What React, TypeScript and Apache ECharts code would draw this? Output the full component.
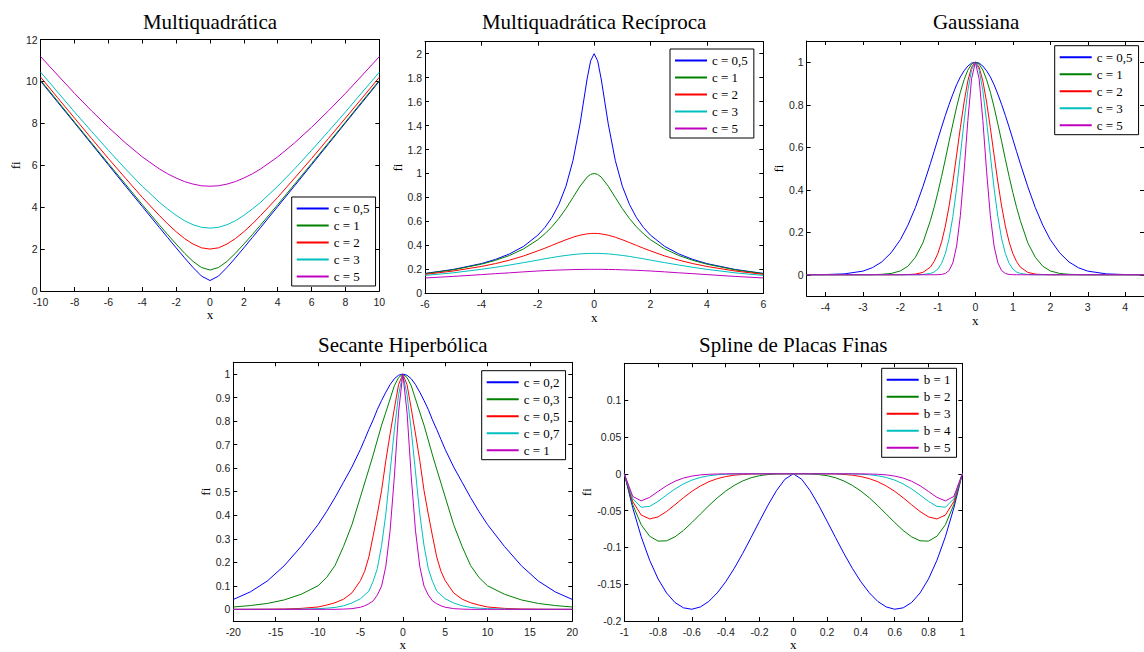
import { useEffect, useRef } from 'react';
import * as echarts from 'echarts';

// ---------------- DATA ----------------
const COLORS = ['#0000ff', '#008000', '#ff0000', '#00bfbf', '#bf00bf'];

const C_NAMES = ['c = 0,5', 'c = 1', 'c = 2', 'c = 3', 'c = 5'];
const SE_NAMES = ['c = 0,2', 'c = 0,3', 'c = 0,5', 'c = 0,7', 'c = 1'];
const TPS_NAMES = ['b = 1', 'b = 2', 'b = 3', 'b = 4', 'b = 5'];

// Multiquadrática
const MQ_X = [-10, -9, -8, -7, -6, -5, -4, -3, -2.5, -2, -1.5, -1, -0.5, 0, 0.5, 1, 1.5, 2, 2.5, 3, 4, 5, 6, 7, 8, 9, 10];
const MQ_C05 = [10.01, 9.01, 8.02, 7.02, 6.02, 5.02, 4.03, 3.04, 2.55, 2.06, 1.58, 1.12, 0.71, 0.5, 0.71, 1.12, 1.58, 2.06, 2.55, 3.04, 4.03, 5.02, 6.02, 7.02, 8.02, 9.01, 10.01];
const MQ_C1 = [10.05, 9.06, 8.06, 7.07, 6.08, 5.1, 4.12, 3.16, 2.69, 2.24, 1.8, 1.41, 1.12, 1, 1.12, 1.41, 1.8, 2.24, 2.69, 3.16, 4.12, 5.1, 6.08, 7.07, 8.06, 9.06, 10.05];
const MQ_C2 = [10.2, 9.22, 8.25, 7.28, 6.32, 5.39, 4.47, 3.61, 3.2, 2.83, 2.5, 2.24, 2.06, 2, 2.06, 2.24, 2.5, 2.83, 3.2, 3.61, 4.47, 5.39, 6.32, 7.28, 8.25, 9.22, 10.2];
const MQ_C3 = [10.44, 9.49, 8.54, 7.62, 6.71, 5.83, 5, 4.24, 3.91, 3.61, 3.35, 3.16, 3.04, 3, 3.04, 3.16, 3.35, 3.61, 3.91, 4.24, 5, 5.83, 6.71, 7.62, 8.54, 9.49, 10.44];
const MQ_C5 = [11.18, 10.3, 9.43, 8.6, 7.81, 7.07, 6.4, 5.83, 5.59, 5.39, 5.22, 5.1, 5.02, 5, 5.02, 5.1, 5.22, 5.39, 5.59, 5.83, 6.4, 7.07, 7.81, 8.6, 9.43, 10.3, 11.18];
const MQ_XTICKS = [-10, -8, -6, -4, -2, 0, 2, 4, 6, 8, 10];
const MQ_YTICKS = [0, 2, 4, 6, 8, 10, 12];

// Multiquadrática Recíproca
const IMQ_X = [-6, -5, -4, -3.5, -3, -2.5, -2, -1.75, -1.5, -1.25, -1, -0.75, -0.5, -0.25, -0.125, 0, 0.125, 0.25, 0.5, 0.75, 1, 1.25, 1.5, 1.75, 2, 2.5, 3, 3.5, 4, 5, 6];
const IMQ_C05 = [0.166, 0.199, 0.248, 0.283, 0.329, 0.392, 0.485, 0.549, 0.632, 0.743, 0.894, 1.109, 1.414, 1.789, 1.94, 2, 1.94, 1.789, 1.414, 1.109, 0.894, 0.743, 0.632, 0.549, 0.485, 0.392, 0.329, 0.283, 0.248, 0.199, 0.166];
const IMQ_C1 = [0.164, 0.196, 0.243, 0.275, 0.316, 0.371, 0.447, 0.496, 0.555, 0.625, 0.707, 0.8, 0.894, 0.97, 0.992, 1, 0.992, 0.97, 0.894, 0.8, 0.707, 0.625, 0.555, 0.496, 0.447, 0.371, 0.316, 0.275, 0.243, 0.196, 0.164];
const IMQ_C2 = [0.158, 0.186, 0.224, 0.248, 0.277, 0.312, 0.354, 0.376, 0.4, 0.424, 0.447, 0.468, 0.485, 0.496, 0.499, 0.5, 0.499, 0.496, 0.485, 0.468, 0.447, 0.424, 0.4, 0.376, 0.354, 0.312, 0.277, 0.248, 0.224, 0.186, 0.158];
const IMQ_C3 = [0.149, 0.171, 0.2, 0.217, 0.236, 0.256, 0.277, 0.288, 0.298, 0.308, 0.316, 0.323, 0.329, 0.332, 0.333, 0.333, 0.333, 0.332, 0.329, 0.323, 0.316, 0.308, 0.298, 0.288, 0.277, 0.256, 0.236, 0.217, 0.2, 0.171, 0.149];
const IMQ_C5 = [0.128, 0.141, 0.156, 0.164, 0.171, 0.179, 0.186, 0.189, 0.192, 0.194, 0.196, 0.198, 0.199, 0.2, 0.2, 0.2, 0.2, 0.2, 0.199, 0.198, 0.196, 0.194, 0.192, 0.189, 0.186, 0.179, 0.171, 0.164, 0.156, 0.141, 0.128];
const IMQ_XTICKS = [-6, -4, -2, 0, 2, 4, 6];
const IMQ_YTICKS = [0, 0.2, 0.4, 0.6, 0.8, 1, 1.2, 1.4, 1.6, 1.8, 2];

// Gaussiana
const GA_X = [-4.5, -4, -3.5, -3, -2.75, -2.5, -2.25, -2, -1.8, -1.6, -1.4, -1.2, -1.1, -1, -0.9, -0.8, -0.7, -0.6, -0.5, -0.4, -0.3, -0.2, -0.1, 0, 0.1, 0.2, 0.3, 0.4, 0.5, 0.6, 0.7, 0.8, 0.9, 1, 1.1, 1.2, 1.4, 1.6, 1.8, 2, 2.25, 2.5, 2.75, 3, 3.5, 4, 4.5];
const GA_C05 = [0, 0.001, 0.004, 0.017, 0.033, 0.06, 0.103, 0.165, 0.233, 0.316, 0.414, 0.523, 0.58, 0.638, 0.695, 0.75, 0.802, 0.85, 0.894, 0.931, 0.96, 0.982, 0.996, 1, 0.996, 0.982, 0.96, 0.931, 0.894, 0.85, 0.802, 0.75, 0.695, 0.638, 0.58, 0.523, 0.414, 0.316, 0.233, 0.165, 0.103, 0.06, 0.033, 0.017, 0.004, 0.001, 0];
const GA_C1 = [0, 0, 0, 0, 0.0005, 0.002, 0.006, 0.018, 0.04, 0.082, 0.15, 0.255, 0.317, 0.387, 0.463, 0.544, 0.628, 0.71, 0.789, 0.859, 0.918, 0.963, 0.991, 1, 0.991, 0.963, 0.918, 0.859, 0.789, 0.71, 0.628, 0.544, 0.463, 0.387, 0.317, 0.255, 0.15, 0.082, 0.04, 0.018, 0.006, 0.002, 0.0005, 0, 0, 0, 0];
const GA_C2 = [0, 0, 0, 0, 0, 0, 0, 0, 0.001, 0.003, 0.011, 0.036, 0.062, 0.1, 0.155, 0.229, 0.324, 0.437, 0.563, 0.692, 0.813, 0.912, 0.977, 1, 0.977, 0.912, 0.813, 0.692, 0.563, 0.437, 0.324, 0.229, 0.155, 0.1, 0.062, 0.036, 0.011, 0.003, 0.001, 0, 0, 0, 0, 0, 0, 0, 0];
const GA_C3 = [0, 0, 0, 0, 0, 0, 0, 0, 0, 0, 0.001, 0.006, 0.013, 0.027, 0.054, 0.1, 0.171, 0.274, 0.407, 0.562, 0.723, 0.866, 0.965, 1, 0.965, 0.866, 0.723, 0.562, 0.407, 0.274, 0.171, 0.1, 0.054, 0.027, 0.013, 0.006, 0.001, 0, 0, 0, 0, 0, 0, 0, 0, 0, 0];
const GA_C5 = [0, 0, 0, 0, 0, 0, 0, 0, 0, 0, 0, 0, 0, 0.0003, 0.0015, 0.006, 0.02, 0.056, 0.135, 0.278, 0.487, 0.726, 0.923, 1, 0.923, 0.726, 0.487, 0.278, 0.135, 0.056, 0.02, 0.006, 0.0015, 0.0003, 0, 0, 0, 0, 0, 0, 0, 0, 0, 0, 0, 0, 0];
const GA_XTICKS = [-4, -3, -2, -1, 0, 1, 2, 3, 4];
const GA_YTICKS = [0, 0.2, 0.4, 0.6, 0.8, 1];

// Secante Hiperbólica
const SE_X = [-20, -18, -16, -14, -12, -10, -9, -8, -7, -6, -5, -4.5, -4, -3.5, -3, -2.5, -2, -1.5, -1, -0.5, 0, 0.5, 1, 1.5, 2, 2.5, 3, 3.5, 4, 4.5, 5, 6, 7, 8, 9, 10, 12, 14, 16, 18, 20];
const SE_C02 = [0.042, 0.074, 0.12, 0.185, 0.267, 0.36, 0.415, 0.475, 0.54, 0.605, 0.68, 0.722, 0.765, 0.805, 0.85, 0.888, 0.923, 0.955, 0.98, 0.995, 1, 0.995, 0.98, 0.955, 0.923, 0.888, 0.85, 0.805, 0.765, 0.722, 0.68, 0.605, 0.54, 0.475, 0.415, 0.36, 0.267, 0.185, 0.12, 0.074, 0.042];
const SE_C03 = [0.01, 0.016, 0.025, 0.04, 0.064, 0.1, 0.135, 0.186, 0.267, 0.36, 0.478, 0.537, 0.596, 0.656, 0.72, 0.783, 0.838, 0.894, 0.95, 0.985, 1, 0.985, 0.95, 0.894, 0.838, 0.783, 0.72, 0.656, 0.596, 0.537, 0.478, 0.36, 0.267, 0.186, 0.135, 0.1, 0.064, 0.04, 0.025, 0.016, 0.01];
const SE_C05 = [0.0001, 0.0003, 0.0007, 0.0015, 0.004, 0.01, 0.018, 0.028, 0.043, 0.07, 0.122, 0.162, 0.223, 0.312, 0.406, 0.506, 0.633, 0.745, 0.852, 0.955, 1, 0.955, 0.852, 0.745, 0.633, 0.506, 0.406, 0.312, 0.223, 0.162, 0.122, 0.07, 0.043, 0.028, 0.018, 0.01, 0.004, 0.0015, 0.0007, 0.0003, 0.0001];
const SE_C07 = [0, 0, 0, 0, 0.001, 0.003, 0.005, 0.008, 0.015, 0.027, 0.045, 0.061, 0.078, 0.119, 0.174, 0.272, 0.406, 0.584, 0.76, 0.912, 1, 0.912, 0.76, 0.584, 0.406, 0.272, 0.174, 0.119, 0.078, 0.061, 0.045, 0.027, 0.015, 0.008, 0.005, 0.003, 0.001, 0, 0, 0, 0];
const SE_C1 = [0, 0, 0, 0, 0, 0, 0, 0, 0.001, 0.003, 0.009, 0.015, 0.024, 0.036, 0.061, 0.099, 0.183, 0.334, 0.562, 0.838, 1, 0.838, 0.562, 0.334, 0.183, 0.099, 0.061, 0.036, 0.024, 0.015, 0.009, 0.003, 0.001, 0, 0, 0, 0, 0, 0, 0, 0];
const SE_XTICKS = [-20, -15, -10, -5, 0, 5, 10, 15, 20];
const SE_YTICKS = [0, 0.1, 0.2, 0.3, 0.4, 0.5, 0.6, 0.7, 0.8, 0.9, 1];

// Spline de Placas Finas
const TPS_X = [-1, -0.95, -0.9, -0.85, -0.8, -0.75, -0.7, -0.65, -0.6, -0.55, -0.5, -0.45, -0.4, -0.35, -0.3, -0.25, -0.2, -0.15, -0.1, -0.05, 0, 0.05, 0.1, 0.15, 0.2, 0.25, 0.3, 0.35, 0.4, 0.45, 0.5, 0.55, 0.6, 0.65, 0.7, 0.75, 0.8, 0.85, 0.9, 0.95, 1];
const TPS_B1 = [0, -0.0463, -0.0854, -0.1174, -0.1428, -0.1618, -0.1748, -0.182, -0.1839, -0.1808, -0.1733, -0.1617, -0.1466, -0.1286, -0.1084, -0.0866, -0.0644, -0.0427, -0.023, -0.0075, 0, -0.0075, -0.023, -0.0427, -0.0644, -0.0866, -0.1084, -0.1286, -0.1466, -0.1617, -0.1733, -0.1808, -0.1839, -0.182, -0.1748, -0.1618, -0.1428, -0.1174, -0.0854, -0.0463, 0];
const TPS_B2 = [0, -0.0418, -0.0692, -0.0848, -0.0914, -0.091, -0.0856, -0.0769, -0.0662, -0.0547, -0.0433, -0.0327, -0.0235, -0.0158, -0.0098, -0.0054, -0.0026, -0.001, -0.0002, 0, 0, 0, -0.0002, -0.001, -0.0026, -0.0054, -0.0098, -0.0158, -0.0235, -0.0327, -0.0433, -0.0547, -0.0662, -0.0769, -0.0856, -0.091, -0.0914, -0.0848, -0.0692, -0.0418, 0];
const TPS_B3 = [0, -0.0377, -0.056, -0.0613, -0.0585, -0.0512, -0.042, -0.0325, -0.0238, -0.0166, -0.0108, -0.0066, -0.0038, -0.0019, -0.0009, -0.0003, -0.0001, 0, 0, 0, 0, 0, 0, 0, -0.0001, -0.0003, -0.0009, -0.0019, -0.0038, -0.0066, -0.0108, -0.0166, -0.0238, -0.0325, -0.042, -0.0512, -0.0585, -0.0613, -0.056, -0.0377, 0];
const TPS_B4 = [0, -0.034, -0.0454, -0.0443, -0.0374, -0.0288, -0.0206, -0.0137, -0.0086, -0.005, -0.0027, -0.0013, -0.0006, -0.0002, -0.0001, 0, 0, 0, 0, 0, 0, 0, 0, 0, 0, 0, -0.0001, -0.0002, -0.0006, -0.0013, -0.0027, -0.005, -0.0086, -0.0137, -0.0206, -0.0288, -0.0374, -0.0443, -0.0454, -0.034, 0];
const TPS_B5 = [0, -0.0307, -0.0368, -0.032, -0.024, -0.0162, -0.0101, -0.0058, -0.0031, -0.0015, -0.0007, -0.0003, -0.0001, 0, 0, 0, 0, 0, 0, 0, 0, 0, 0, 0, 0, 0, 0, 0, -0.0001, -0.0003, -0.0007, -0.0015, -0.0031, -0.0058, -0.0101, -0.0162, -0.024, -0.032, -0.0368, -0.0307, 0];
const TPS_XTICKS = [-1, -0.8, -0.6, -0.4, -0.2, 0, 0.2, 0.4, 0.6, 0.8, 1];
const TPS_YTICKS = [-0.2, -0.15, -0.1, -0.05, 0, 0.05, 0.1];

const TITLES = ['Multiquadrática', 'Multiquadrática Recíproca', 'Gaussiana', 'Secante Hiperbólica', 'Spline de Placas Finas'];

// ---------------- PANELS (data refs + ranges) ----------------
const PANELS = [
  { title: TITLES[0], x: MQ_X, ys: [MQ_C05, MQ_C1, MQ_C2, MQ_C3, MQ_C5], names: C_NAMES, xr: [-10, 10], yr: [0, 12], xt: MQ_XTICKS, yt: MQ_YTICKS },
  { title: TITLES[1], x: IMQ_X, ys: [IMQ_C05, IMQ_C1, IMQ_C2, IMQ_C3, IMQ_C5], names: C_NAMES, xr: [-6, 6], yr: [0, 2.1], xt: IMQ_XTICKS, yt: IMQ_YTICKS },
  { title: TITLES[2], x: GA_X, ys: [GA_C05, GA_C1, GA_C2, GA_C3, GA_C5], names: C_NAMES, xr: [-4.5, 4.5], yr: [-0.1, 1.1], xt: GA_XTICKS, yt: GA_YTICKS },
  { title: TITLES[3], x: SE_X, ys: [SE_C02, SE_C03, SE_C05, SE_C07, SE_C1], names: SE_NAMES, xr: [-20, 20], yr: [-0.05, 1.05], xt: SE_XTICKS, yt: SE_YTICKS },
  { title: TITLES[4], x: TPS_X, ys: [TPS_B1, TPS_B2, TPS_B3, TPS_B4, TPS_B5], names: TPS_NAMES, xr: [-1, 1], yr: [-0.2, 0.15], xt: TPS_XTICKS, yt: TPS_YTICKS },
];

// ---------------- LAYOUT (pixels) ----------------
const LAYOUT = [
  { left: 40.7, top: 39.5, width: 338.6, height: 251.5, titleY: 22, lgLeft: 291.7, lgTop: 197, xGap: 16.5, yGap: 19 },
  { left: 425, top: 41.7, width: 338.3, height: 251.6, titleY: 22, lgLeft: 670, lgTop: 49, xGap: 18, yGap: 20 },
  { left: 806.7, top: 41, width: 338.8, height: 255, titleY: 22, lgLeft: 1054.7, lgTop: 45.7, xGap: 17.7, yGap: 19.5 },
  { left: 233.3, top: 362.3, width: 339, height: 262, titleY: 345, lgLeft: 481.7, lgTop: 370.7, xGap: 15, yGap: 20.5 },
  { left: 624.3, top: 363.3, width: 338, height: 260, titleY: 345, lgLeft: 881.7, lgTop: 368.3, xGap: 15.4, yGap: 31.5 },
];

const SERIF = '"Liberation Serif", "Times New Roman", serif';
const SANS = '"Liberation Sans", Arial, sans-serif';

function buildOption() {
  const grid: any[] = [];
  const xAxis: any[] = [];
  const yAxis: any[] = [];
  const series: any[] = [];
  const legend: any[] = [];
  const graphic: any[] = [];

  PANELS.forEach((p, i) => {
    const L = LAYOUT[i];
    grid.push({ left: L.left, top: L.top, width: L.width, height: L.height, containLabel: false });
    const axisLine = { show: true, onZero: false, lineStyle: { color: '#000', width: 1 } };
    const tickStyle = { lineStyle: { color: '#000', width: 1 } };
    const labelStyle = { fontFamily: SANS, fontSize: 10.5, lineHeight: 10, color: '#222' };
    xAxis.push({
      type: 'value', gridIndex: i, position: 'bottom', min: p.xr[0], max: p.xr[1],
      axisLine, splitLine: { show: false },
      axisTick: { show: true, inside: true, length: 4, customValues: p.xt, ...tickStyle },
      axisLabel: { show: true, margin: 5.5, customValues: p.xt, ...labelStyle },
      name: 'x', nameLocation: 'middle', nameGap: L.xGap,
      nameTextStyle: { fontFamily: SERIF, fontSize: 13, color: '#000' },
    });
    xAxis.push({
      type: 'value', gridIndex: i, position: 'top', min: p.xr[0], max: p.xr[1],
      axisLine, splitLine: { show: false },
      axisTick: { show: true, inside: true, length: 4, customValues: p.xt, ...tickStyle },
      axisLabel: { show: false },
    });
    yAxis.push({
      type: 'value', gridIndex: i, position: 'left', min: p.yr[0], max: p.yr[1],
      axisLine, splitLine: { show: false },
      axisTick: { show: true, inside: true, length: 4, customValues: p.yt, ...tickStyle },
      axisLabel: { show: true, margin: 3, customValues: p.yt, ...labelStyle },
      name: 'fi', nameLocation: 'middle', nameGap: L.yGap,
      nameTextStyle: { fontFamily: SERIF, fontSize: 13, color: '#000' },
    });
    yAxis.push({
      type: 'value', gridIndex: i, position: 'right', min: p.yr[0], max: p.yr[1],
      axisLine, splitLine: { show: false },
      axisTick: { show: true, inside: true, length: 4, customValues: p.yt, ...tickStyle },
      axisLabel: { show: false },
    });
    p.ys.forEach((ys, j) => {
      series.push({
        type: 'line', name: p.names[j], xAxisIndex: 2 * i, yAxisIndex: 2 * i,
        data: p.x.map((xv, k) => [xv, ys[k]]),
        symbol: 'none', showSymbol: false, smooth: false, silent: true,
        lineStyle: { width: 1, color: COLORS[j] }, itemStyle: { color: COLORS[j] },
        animation: false,
      });
    });
    legend.push({
      orient: 'vertical', left: L.lgLeft, top: L.lgTop,
      padding: [5, 6, 3, 5], itemGap: 4, itemWidth: 32, itemHeight: 2, itemTextGap: 3,
      icon: 'rect', backgroundColor: '#fff', borderColor: '#000', borderWidth: 1,
      selectedMode: false,
      textStyle: { fontFamily: SERIF, fontSize: 13, color: '#000' },
      data: p.names.map((n, j) => ({ name: n, icon: 'rect', itemStyle: { color: COLORS[j] } })),
    });
    graphic.push({
      type: 'text', x: L.left + L.width / 2, y: L.titleY, silent: true,
      style: {
        text: p.title, fill: '#000', font: `normal 21px ${SERIF}`,
        textAlign: 'center', textVerticalAlign: 'middle', align: 'center', verticalAlign: 'middle',
      },
    });
  });

  return { animation: false, backgroundColor: '#fff', grid, xAxis, yAxis, series, legend, graphic };
}

export default function App() {
  const ref = useRef<HTMLDivElement>(null);
  useEffect(() => {
    const chart = echarts.init(ref.current!, null, { renderer: 'svg' });
    chart.setOption(buildOption() as any);
    return () => chart.dispose();
  }, []);
  return <div ref={ref} style={{ position: 'absolute', left: 0, top: 0, width: 1144, height: 652, background: '#fff' }} />;
}
